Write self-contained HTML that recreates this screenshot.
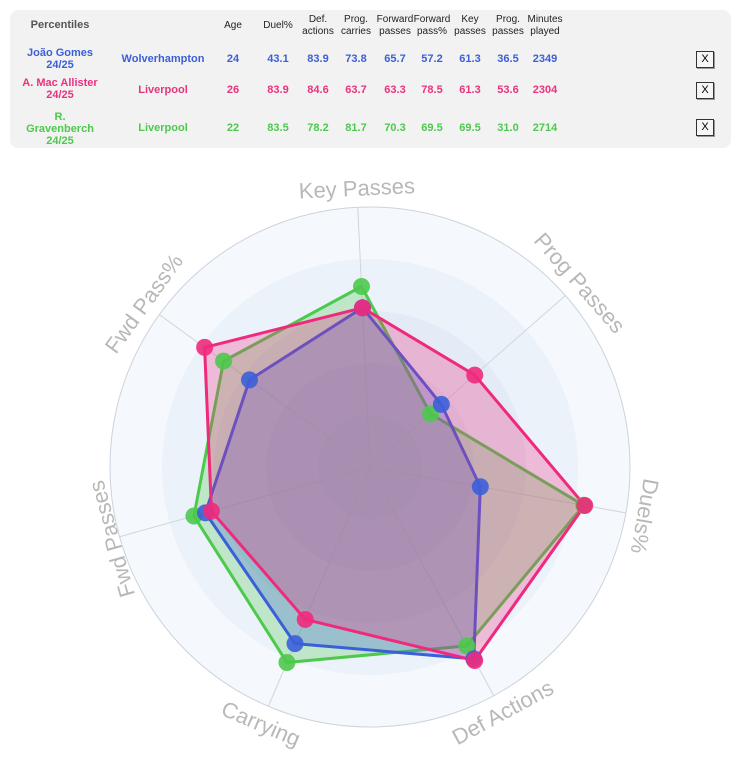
<!DOCTYPE html>
<html><head><meta charset="utf-8"><style>
body{margin:0;width:744px;height:772px;background:#fff;font-family:"Liberation Sans",Arial,sans-serif;overflow:hidden;position:relative}
#tbl{position:absolute;left:10px;top:10px;width:721px;height:138px;background:#f2f2f2;border-radius:8px}
.c{position:absolute;text-align:center;transform:translateX(-50%);line-height:12px;white-space:nowrap}
.h{font-size:10px;color:#222}
.v{font-size:11px;font-weight:bold}
.b{color:#3b5fd8}.p{color:#e8337f}.g{color:#4dc94d}
.x{position:absolute;left:686px;width:16px;height:15px;border:1px solid #333;background:#f6f6f6;font-size:11px;text-align:center;line-height:15px;box-shadow:1px 1px 0 #999}
</style></head><body>
<div id="tbl">
<div class="c h" style="left:50px;top:9px;font-size:11px;font-weight:bold;color:#555">Percentiles</div>
<div class="c h" style="left:223px;top:10px">Age</div>
<div class="c h" style="left:268px;top:10px">Duel%</div>
<div class="c h" style="left:308px;top:4px">Def.<br>actions</div>
<div class="c h" style="left:346px;top:4px">Prog.<br>carries</div>
<div class="c h" style="left:385px;top:4px">Forward<br>passes</div>
<div class="c h" style="left:422px;top:4px">Forward<br>pass%</div>
<div class="c h" style="left:460px;top:4px">Key<br>passes</div>
<div class="c h" style="left:498px;top:4px">Prog.<br>passes</div>
<div class="c h" style="left:535px;top:4px">Minutes<br>played</div>

<div class="c v b" style="left:50px;top:37px">João Gomes<br>24/25</div>
<div class="c v b" style="left:153px;top:43px">Wolverhampton</div>
<div class="c v b" style="left:223px;top:43px">24</div><div class="c v b" style="left:268px;top:43px">43.1</div><div class="c v b" style="left:308px;top:43px">83.9</div><div class="c v b" style="left:346px;top:43px">73.8</div><div class="c v b" style="left:385px;top:43px">65.7</div><div class="c v b" style="left:422px;top:43px">57.2</div><div class="c v b" style="left:460px;top:43px">61.3</div><div class="c v b" style="left:498px;top:43px">36.5</div><div class="c v b" style="left:535px;top:43px">2349</div>
<div class="x" style="top:41px">X</div>

<div class="c v p" style="left:50px;top:67px">A. Mac Allister<br>24/25</div>
<div class="c v p" style="left:153px;top:74px">Liverpool</div>
<div class="c v p" style="left:223px;top:74px">26</div><div class="c v p" style="left:268px;top:74px">83.9</div><div class="c v p" style="left:308px;top:74px">84.6</div><div class="c v p" style="left:346px;top:74px">63.7</div><div class="c v p" style="left:385px;top:74px">63.3</div><div class="c v p" style="left:422px;top:74px">78.5</div><div class="c v p" style="left:460px;top:74px">61.3</div><div class="c v p" style="left:498px;top:74px">53.6</div><div class="c v p" style="left:535px;top:74px">2304</div>
<div class="x" style="top:72px">X</div>

<div class="c v g" style="left:50px;top:101px">R.<br>Gravenberch<br>24/25</div>
<div class="c v g" style="left:153px;top:112px">Liverpool</div>
<div class="c v g" style="left:223px;top:112px">22</div><div class="c v g" style="left:268px;top:112px">83.5</div><div class="c v g" style="left:308px;top:112px">78.2</div><div class="c v g" style="left:346px;top:112px">81.7</div><div class="c v g" style="left:385px;top:112px">70.3</div><div class="c v g" style="left:422px;top:112px">69.5</div><div class="c v g" style="left:460px;top:112px">69.5</div><div class="c v g" style="left:498px;top:112px">31.0</div><div class="c v g" style="left:535px;top:112px">2714</div>
<div class="x" style="top:109px">X</div>
</div>

<svg id="radar" width="744" height="772" style="position:absolute;left:0;top:0"></svg>
<script>
const axes = ["Key Passes","Prog Passes","Duels%","Def Actions","Carrying","Fwd Passes","Fwd Pass%"];
const gomes = [61.3,36.5,43.1,83.9,73.8,65.7,57.2];
const macAllister = [61.3,53.6,83.9,84.6,63.7,63.3,78.5];
const gravenberch = [69.5,31.0,83.5,78.2,81.7,70.3,69.5];

const NS="http://www.w3.org/2000/svg";
const svg=document.getElementById('radar');
const cx=370, cy=467, R=260, off=-2.7;
function ang(i){return off+i*360/axes.length;}
function pt(i,v){const a=ang(i)*Math.PI/180, r=v/100*R;return [cx+r*Math.sin(a), cy-r*Math.cos(a)];}
function mk(tag,attrs){const e=document.createElementNS(NS,tag);for(const k in attrs)e.setAttribute(k,attrs[k]);svg.appendChild(e);return e;}

const bands=[[1,"#f5f9fd"],[0.8,"#ecf2fa"],[0.6,"#e4ebf6"],[0.4,"#dce3f0"],[0.2,"#d5dcea"]];
bands.forEach(b=>{const c=mk('circle',{cx:cx,cy:cy,r:R*b[0],fill:b[1]});

});
const outer=mk('circle',{cx:cx,cy:cy,r:R,fill:'none',stroke:'#ccd3dc','stroke-width':1});


axes.forEach((n,i)=>{const p=pt(i,100);const l=mk('line',{x1:cx,y1:cy,x2:p[0],y2:p[1],stroke:'#cfd5dd','stroke-width':1});

});

const series=[[gravenberch,"#4dc94d","gravenberch"],[gomes,"#3b5fd8","gomes"],[macAllister,"#ef2a7c","mac-allister"]];
series.forEach(s=>{const pts=s[0].map((v,i)=>pt(i,v).join(',')).join(' ');
const pg=mk('polygon',{points:pts,fill:s[1],'fill-opacity':0.28,stroke:s[1],'stroke-width':3,'stroke-linejoin':'round'});

});
series.forEach(s=>{s[0].forEach((v,i)=>{const p=pt(i,v);
const c=mk('circle',{cx:p[0],cy:p[1],r:8.5,fill:s[1],'fill-opacity':0.9});

});});

axes.forEach((n,i)=>{const a=ang(i);let rot=a, r=279;
if(a>120&&a<240){rot=a-180;}
if(a>240&&a<280) r=268;
const p=pt(i,r/R*100);
const t=mk('text',{x:p[0],y:p[1],fill:'#b8b8b8','font-size':22,'text-anchor':'middle','dominant-baseline':'central','font-family':'Liberation Sans, Arial, sans-serif',transform:`rotate(${rot} ${p[0]} ${p[1]})`});
t.textContent=n;

});
</script>
</body></html>
